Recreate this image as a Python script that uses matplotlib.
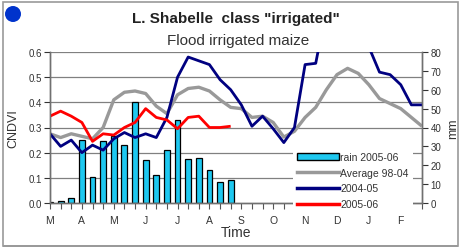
import matplotlib.pyplot as plt
from matplotlib.patches import Rectangle, Circle, Patch
from matplotlib.lines import Line2D

plt.rcParams['font.family'] = ['Liberation Sans', 'DejaVu Sans']

months = ["M", "A", "M", "J", "J", "A", "S", "O", "N", "D", "J", "F"]

# rain per dekad (mm), right axis
rain_2005_06 = [0.7, 1.1, 2.7, 33.3, 14.0, 32.7, 35.3, 30.7, 53.3, 22.7,
                14.7, 28.0, 44.0, 23.3, 24.0, 17.3, 11.3, 12.0]

# CNDVI per dekad, left axis
average_98_04 = [0.275, 0.26, 0.275, 0.265, 0.255, 0.30, 0.41, 0.44, 0.445, 0.435,
                 0.385, 0.355, 0.43, 0.455, 0.46, 0.445, 0.41, 0.38, 0.375, 0.34,
                 0.345, 0.32, 0.262, 0.285, 0.34, 0.38, 0.45, 0.51, 0.535, 0.515,
                 0.47, 0.415, 0.395, 0.375, 0.34, 0.305]
ndvi_2004_05 = [0.275, 0.225, 0.25, 0.20, 0.23, 0.21, 0.255, 0.28, 0.26, 0.275,
                0.26, 0.34, 0.50, 0.58, 0.565, 0.55, 0.49, 0.45, 0.39, 0.305,
                0.345, 0.295, 0.24, 0.30, 0.55, 0.555, 0.77, 0.80, 0.80, 0.75,
                0.62, 0.52, 0.51, 0.47, 0.39, 0.39]
ndvi_2005_06 = [0.345, 0.365, 0.345, 0.32, 0.245, 0.275, 0.27, 0.30, 0.32, 0.375,
                0.34, 0.33, 0.295, 0.34, 0.345, 0.30, 0.30, 0.305]

fig = plt.figure(figsize=(4.62, 2.51), dpi=100)

# outer frame and dot
fig.patches.append(Rectangle((3 / 462, 4 / 251), 455 / 462, 244 / 251, transform=fig.transFigure,
                             fill=False, edgecolor='#9a9a9a', linewidth=1.2))
fig.patches.append(Rectangle((3 / 462, 3 / 251), 455 / 462, 2.5 / 251, transform=fig.transFigure,
                             facecolor='#9a9a9a', edgecolor='none'))
fig.patches.append(Circle((0.13, 2.36), 0.08, transform=fig.dpi_scale_trans,
                          facecolor='#0033cc', edgecolor='none'))

fig.text(236 / 462, 1 - 19 / 251, 'L. Shabelle  class "irrigated"', ha='center', va='center',
         fontsize=11, fontweight='bold', color='#222222')
fig.text(238 / 462, 1 - 41 / 251, 'Flood irrigated maize', ha='center', va='center',
         fontsize=11, color='#333333')

ax = fig.add_axes([50 / 462, 47 / 251, 372 / 462, 151 / 251])
ax2 = ax.twinx()
ax.set_zorder(ax2.get_zorder() + 1)
ax.patch.set_visible(False)

# bars (mm)
xb = list(range(len(rain_2005_06)))
ax2.bar(xb, rain_2005_06, width=0.55, color='#1ec8f0', edgecolor='black', linewidth=0.9)
ax2.set_ylim(0, 80)
ax2.set_yticks(range(0, 81, 10))
# gridlines behind the bars, at the CNDVI ticks
for t in [0.1, 0.2, 0.3, 0.4, 0.5, 0.6]:
    ax2.axhline(t * 80 / 0.6, color='#808080', linewidth=0.9, zorder=0)

x = list(range(len(average_98_04)))
ax.plot(x, average_98_04, color='#999999', linewidth=2.4, solid_capstyle='butt')
ax.plot(x, ndvi_2004_05, color='#000080', linewidth=2.0, solid_capstyle='butt')
ax.plot(list(range(len(ndvi_2005_06))), ndvi_2005_06, color='#ff0000', linewidth=2.0,
        solid_capstyle='butt')

ax.set_xlim(0, 35)
ax.set_ylim(0, 0.6)
ax.set_yticks([0.0, 0.1, 0.2, 0.3, 0.4, 0.5, 0.6])
ax.set_yticklabels(['0.0', '0.1', '0.2', '0.3', '0.4', '0.5', '0.6'])
ax.set_xticks(range(0, 36, 3))
ax.set_xticklabels(months)
ax.set_xticks(range(0, 36), minor=True)

for a in (ax, ax2):
    a.spines['top'].set_visible(False)
    for s in ('left', 'right', 'bottom'):
        a.spines[s].set_color('#707070')
        a.spines[s].set_linewidth(1.0)
ax.tick_params(axis='y', labelsize=7, colors='#333333', length=4, width=0.8, pad=2)
ax2.tick_params(axis='y', labelsize=7, colors='#333333', length=4, width=0.8, pad=2)
ax.tick_params(axis='x', which='both', length=4, width=0.8, colors='#555555')
ax.tick_params(axis='x', which='major', labelsize=7.5, labelcolor='#333333', pad=5)

ax.set_ylabel('CNDVI', fontsize=9, color='#333333', labelpad=6)
ax2.set_ylabel('mm', fontsize=9, color='#333333', labelpad=4)
ax.set_xlabel('Time', fontsize=10, color='#333333', labelpad=0)

handles = [Patch(facecolor='#1ec8f0', edgecolor='black', linewidth=1.0),
           Line2D([], [], color='#999999', linewidth=2.5),
           Line2D([], [], color='#000080', linewidth=2.5),
           Line2D([], [], color='#ff0000', linewidth=2.5)]
labels = ['rain 2005-06', 'Average 98-04', '2004-05', '2005-06']
leg = ax.legend(handles, labels, loc='upper left', bbox_to_anchor=(0.64, 0.40),
                fontsize=7.5, frameon=True, facecolor='white', edgecolor='none',
                framealpha=1, fancybox=False, handlelength=4.0, handleheight=0.6,
                handletextpad=0.1, labelspacing=0.55, borderpad=0.4)
for t in leg.get_texts():
    t.set_color('#333333')

fig.savefig('out.png', dpi=100)
